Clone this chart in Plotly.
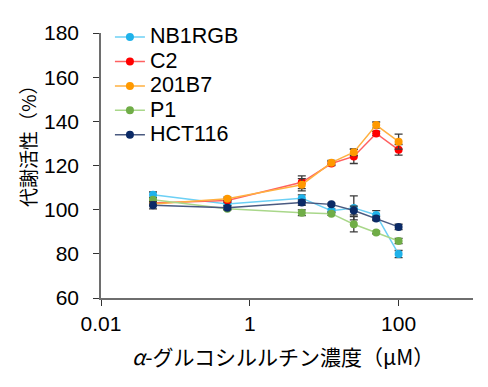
import plotly.graph_objects as go

conc = [0.05, 0.5, 5, 12.5, 25, 50, 100]

nb1rgb = [106.8, 102.6, 105.2, 99.5, 100.8, 97.6, 79.9]
nb1rgb_err = [1.2, 0.8, 1.5, 0.8, 5.4, 2.0, 1.6]
c2 = [103.0, 104.2, 112.4, 120.9, 124.1, 134.5, 127.1]
c2_err = [0.8, 0.8, 2.9, 1.0, 3.2, 1.0, 2.4]
b7 = [102.6, 104.9, 111.3, 121.3, 126.0, 138.3, 130.8]
b7_err = [0.8, 0.8, 2.8, 1.0, 1.5, 1.4, 3.4]
p1 = [104.5, 100.4, 98.6, 98.2, 93.4, 89.7, 85.8]
p1_err = [0.8, 0.6, 1.3, 0.8, 3.5, 0.6, 1.2]
hct = [102.0, 100.9, 103.2, 102.4, 99.6, 96.0, 92.2]
hct_err = [1.6, 0.8, 1.2, 0.6, 2.0, 1.0, 1.2]

names = ["NB1RGB", "C2", "201B7", "P1", "HCT116"]
values = [nb1rgb, c2, b7, p1, hct]
errors = [nb1rgb_err, c2_err, b7_err, p1_err, hct_err]
marker_colors = ["#1fb2ea", "#ff0000", "#ff9900", "#70ad47", "#0b2a66"]
line_colors = ["#6cd0f5", "#ff6060", "#ffb040", "#a9d78a", "#4a5a80"]

fig = go.Figure()
for name, ys, err, mc, lc in zip(names, values, errors, marker_colors, line_colors):
    fig.add_trace(go.Scatter(
        x=conc, y=ys, name=f"<span style='font-size:21.5px'>{name}</span>",
        mode="lines+markers",
        line=dict(color=lc, width=1.5),
        marker=dict(color=mc, size=8),
        error_y=dict(type="data", array=err, visible=True,
                     color="#3a3a3a", thickness=1.3, width=4),
    ))

font = "Liberation Sans, Arial, Noto Sans CJK JP, sans-serif"
cjk = "Noto Sans CJK JP, sans-serif"

W, H = 480, 379          # page body has an 8px offset in the browser
L, R, T, B = 93, 15, 19, 89
OFF = 8
pw = W - L - R
ph = H - T - B


def px_to_paper(wx, wy):
    fx, fy = wx - OFF, wy - OFF
    return (fx - L) / pw, (H - B - fy) / ph


ytx, yty = px_to_paper(27, 207)
xtx, xty = px_to_paper(283, 357)

fig.update_layout(
    width=W, height=H,
    margin=dict(l=L, r=R, t=T, b=B),
    paper_bgcolor="white", plot_bgcolor="white",
    font=dict(family=font, size=21, color="black"),
    showlegend=True,
    legend=dict(x=0.024, y=1.05, xanchor="left", yanchor="top",
                bgcolor="rgba(0,0,0,0)", font=dict(size=16.5),
                itemwidth=30, tracegroupgap=0),
    xaxis=dict(type="log", range=[-2, 3], tickvals=[0.01, 1, 100],
               ticktext=["0.01", "1", "100"],
               showline=True, linecolor="#6e6e6e", linewidth=1.5,
               ticks="outside", ticklen=6, tickcolor="#333",
               showgrid=False, zeroline=False),
    yaxis=dict(range=[60, 180], tickvals=[60, 80, 100, 120, 140, 160, 180],
               showline=True, linecolor="#6e6e6e", linewidth=1.5,
               ticks="outside", ticklen=6, tickcolor="#333",
               ticklabelstandoff=10,
               showgrid=False, zeroline=False),
    annotations=[
        dict(text="代謝活性（%）", textangle=-90, x=ytx, y=yty,
             xref="paper", yref="paper", showarrow=False,
             xanchor="center", yanchor="bottom",
             font=dict(family=cjk, size=19)),
        dict(text="<i>α</i>-グルコシルルチン濃度（μM）", x=xtx, y=xty,
             xref="paper", yref="paper", showarrow=False,
             xanchor="center", yanchor="middle",
             font=dict(family=cjk, size=21)),
    ],
)

fig.write_html("out.html")
